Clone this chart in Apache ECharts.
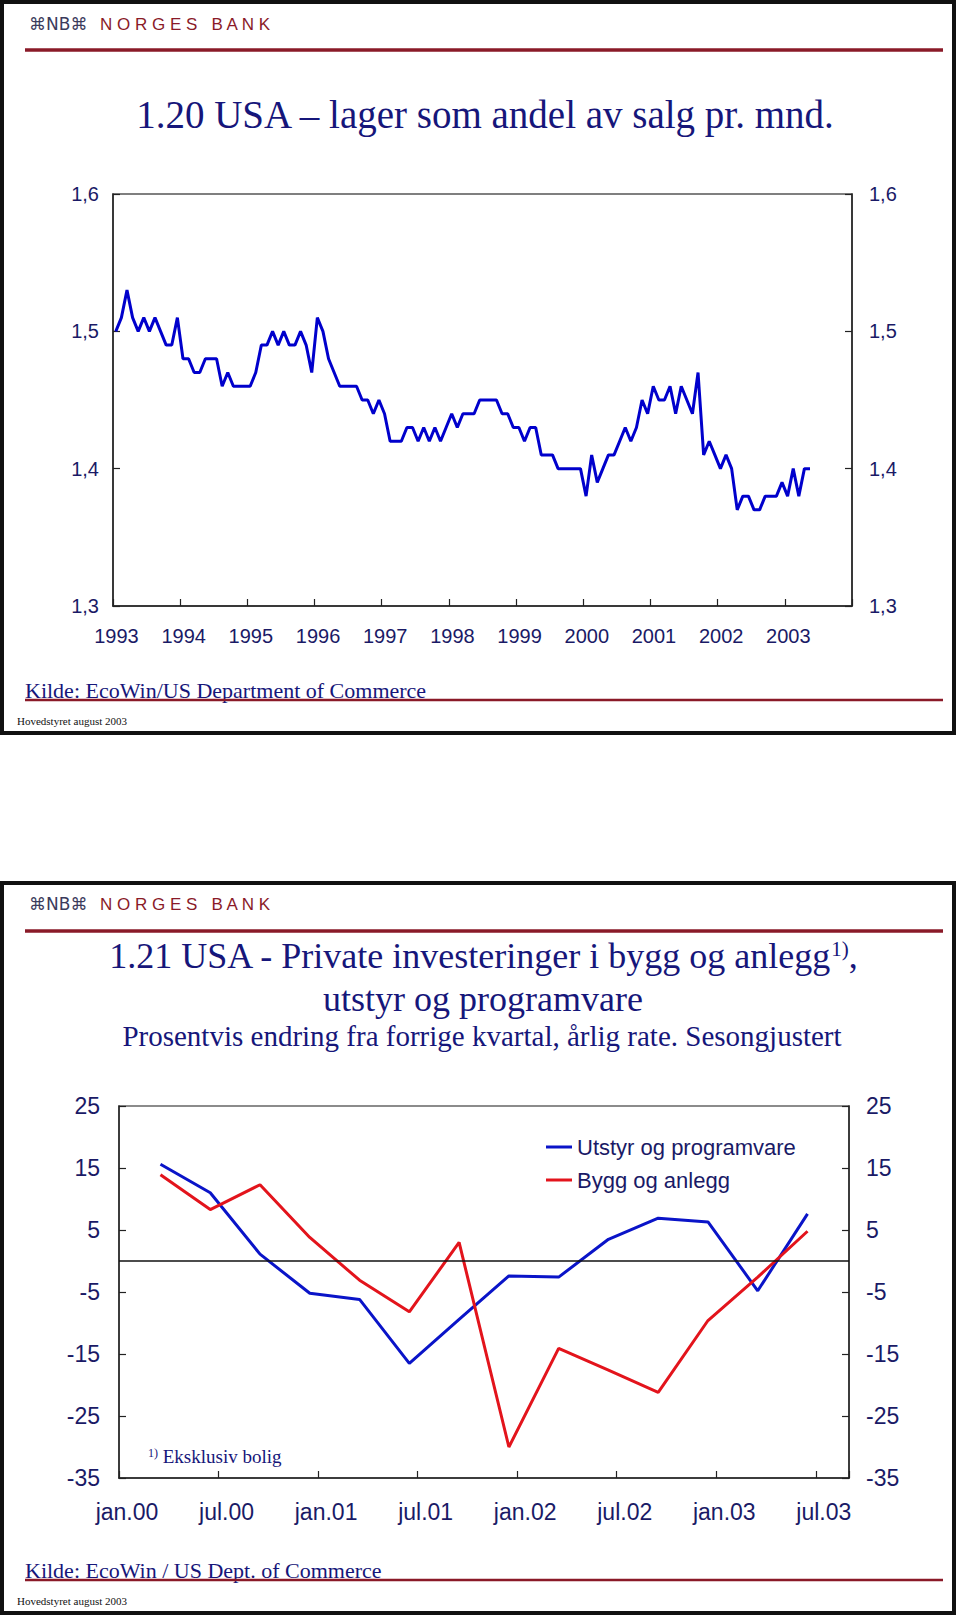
<!DOCTYPE html>
<html>
<head>
<meta charset="utf-8">
<script src="https://cdn.jsdelivr.net/npm/echarts@6/dist/echarts.min.js"></script>
<style>
html,body{margin:0;padding:0;background:#ffffff;}
#c{width:960px;height:1620px;}
</style>
</head>
<body>
<div id="c"></div>
<script>
// ---------- Chart 1.20: inventories / sales ratio, monthly from Jan 1993 ----------
const yearLabels = ['1993','1994','1995','1996','1997','1998','1999','2000','2001','2002','2003'];
const ratioTickLabels = ['1,3','1,4','1,5','1,6'];
const ratio = [
  1.50,1.51,1.53,1.51,1.50,1.51,1.50,1.51,1.50,1.49,
  1.49,1.51,1.48,1.48,1.47,1.47,1.48,1.48,1.48,1.46,
  1.47,1.46,1.46,1.46,1.46,1.47,1.49,1.49,1.50,1.49,
  1.50,1.49,1.49,1.50,1.49,1.47,1.51,1.50,1.48,1.47,
  1.46,1.46,1.46,1.46,1.45,1.45,1.44,1.45,1.44,1.42,
  1.42,1.42,1.43,1.43,1.42,1.43,1.42,1.43,1.42,1.43,
  1.44,1.43,1.44,1.44,1.44,1.45,1.45,1.45,1.45,1.44,
  1.44,1.43,1.43,1.42,1.43,1.43,1.41,1.41,1.41,1.40,
  1.40,1.40,1.40,1.40,1.38,1.41,1.39,1.40,1.41,1.41,
  1.42,1.43,1.42,1.43,1.45,1.44,1.46,1.45,1.45,1.46,
  1.44,1.46,1.45,1.44,1.47,1.41,1.42,1.41,1.40,1.41,
  1.40,1.37,1.38,1.38,1.37,1.37,1.38,1.38,1.38,1.39,
  1.38,1.40,1.38,1.40,1.40
];

// ---------- Chart 1.21: private investment, quarterly ----------
const quarters = ['2000K1','2000K2','2000K3','2000K4','2001K1','2001K2','2001K3','2001K4',
                  '2002K1','2002K2','2002K3','2002K4','2003K1','2003K2'];
const utstyr = [15.6, 11.0, 1.1, -5.2, -6.2, -16.5, -9.4, -2.4, -2.6, 3.5, 6.9, 6.3, -4.8, 7.6];
const bygg   = [13.9, 8.3, 12.3, 3.8, -3.1, -8.2, 3.0, -30.0, -14.1, -17.6, -21.2, -9.6, -2.6, 4.8];
const halfYearLabels = ['jan.00','jul.00','jan.01','jul.01','jan.02','jul.02','jan.03','jul.03'];

// ---------- styling ----------
const NAVY = '#16167a';
const LABEL = '#1a1a66';
const DARKRED = '#8a1a28';
const SANS = '"Liberation Sans", Arial, sans-serif';
const SERIF = '"Liberation Serif", "Times New Roman", serif';

// month positions (months since Jan 1993, plotted mid-month)
const ratioData = ratio.map((v, i) => [i + 0.5, v]);
// quarter positions (months since Jan 2000)
const qx = q => (Number(q.slice(0, 4)) - 2000) * 12 + Number(q.slice(5)) * 3 - 0.5;
const utstyrData = quarters.map((q, i) => [qx(q), utstyr[i]]);
const byggData = quarters.map((q, i) => [qx(q), bygg[i]]);

const chart = echarts.init(document.getElementById('c'), null, {renderer: 'svg', width: 960, height: 1620});

function txt(text, x, y, size, family, color, align, vAlign, extra) {
  const style = Object.assign({
    text: text, x: x, y: y, fill: color,
    fontSize: size, fontFamily: family,
    align: align, textAlign: align,
    verticalAlign: vAlign, textVerticalAlign: vAlign
  }, extra || {});
  return {type: 'text', silent: true, style: style};
}
function hline(x1, x2, y, w, color) {
  return {type: 'line', silent: true, shape: {x1: x1, y1: y, x2: x2, y2: y}, style: {stroke: color, lineWidth: w}};
}
function panel(y, h) {
  return {type: 'rect', silent: true, shape: {x: 2, y: y, width: 952, height: h},
          style: {fill: null, stroke: '#111', lineWidth: 4}};
}

const graphics = [
  panel(2, 731),
  panel(883, 730),
  // header top panel
  txt('⌘NB⌘', 29, 24, 17, '"DejaVu Sans", sans-serif', '#3b3b5c', 'left', 'middle'),
  txt('N O R G E S   B A N K', 100, 24, 17, SANS, DARKRED, 'left', 'middle'),
  hline(25, 943, 50, 3.5, DARKRED),
  txt('1.20 USA – lager som andel av salg pr. mnd.', 485, 114, 39, SERIF, NAVY, 'center', 'middle'),
  txt('Kilde: EcoWin/US Department of Commerce', 25, 690, 22, SERIF, NAVY, 'left', 'middle'),
  hline(25, 943, 700, 2.5, DARKRED),
  txt('Hovedstyret august 2003', 17, 721, 11, SERIF, '#111', 'left', 'middle'),
  // header bottom panel
  txt('⌘NB⌘', 29, 904, 17, '"DejaVu Sans", sans-serif', '#3b3b5c', 'left', 'middle'),
  txt('N O R G E S   B A N K', 100, 904, 17, SANS, DARKRED, 'left', 'middle'),
  hline(25, 943, 931, 3.5, DARKRED),
  txt('1.21 USA - Private investeringer i bygg og anlegg{sup|1)},', 483, 956, 36, SERIF, NAVY, 'center', 'middle',
      {rich: {sup: {fontSize: 21, fontFamily: SERIF, fill: NAVY, verticalAlign: 'top'}}}),
  txt('utstyr og programvare', 483, 999, 36, SERIF, NAVY, 'center', 'middle'),
  txt('Prosentvis endring fra forrige kvartal, årlig rate. Sesongjustert', 482, 1036, 29, SERIF, NAVY, 'center', 'middle'),
  txt('{sup|1)} Eksklusiv bolig', 148, 1456, 19, SERIF, NAVY, 'left', 'middle',
      {rich: {sup: {fontSize: 12, fontFamily: SERIF, fill: NAVY, verticalAlign: 'top'}}}),
  txt('Kilde: EcoWin / US Dept. of Commerce', 25, 1570, 22, SERIF, NAVY, 'left', 'middle'),
  hline(25, 943, 1580, 2.5, DARKRED),
  txt('Hovedstyret august 2003', 17, 1601, 11, SERIF, '#111', 'left', 'middle')
];

const axisLineStyle = {color: '#222', width: 1.5};

const option = {
  animation: false,
  backgroundColor: '#ffffff',
  textStyle: {fontFamily: SANS},
  grid: [
    {left: 113, top: 194, width: 739, height: 412, show: true, borderColor: '#555', borderWidth: 1.5, backgroundColor: 'transparent'},
    {left: 119, top: 1106, width: 730, height: 372, show: true, borderColor: '#666', borderWidth: 1.5, backgroundColor: 'transparent'}
  ],
  xAxis: [
    {
      type: 'value', gridIndex: 0, min: 0, max: 132, interval: 12,
      axisLine: {show: true, onZero: false, lineStyle: axisLineStyle},
      axisTick: {show: true, inside: true, length: 7, lineStyle: {color: '#222', width: 1.2}},
      splitLine: {show: false},
      axisLabel: {
        show: true, margin: 20, color: LABEL, fontSize: 20, fontFamily: SANS,
        padding: [0, 0, 0, 7],
        showMinLabel: true, showMaxLabel: true,
        formatter: v => (v % 12 === 0 && v / 12 < yearLabels.length) ? yearLabels[v / 12] : ''
      }
    },
    {
      type: 'value', gridIndex: 1, min: 0, max: 44, interval: 6,
      axisLine: {show: true, onZero: false, lineStyle: axisLineStyle},
      axisTick: {show: true, inside: true, length: 7, lineStyle: {color: '#222', width: 1.2}},
      splitLine: {show: false},
      axisLabel: {
        show: true, margin: 22, color: LABEL, fontSize: 23, fontFamily: SANS,
        padding: [0, 0, 0, 16],
        showMinLabel: true, showMaxLabel: true,
        formatter: v => (v % 6 === 0 && v / 6 < halfYearLabels.length) ? halfYearLabels[v / 6] : ''
      }
    }
  ],
  yAxis: [
    {
      type: 'value', gridIndex: 0, position: 'left', min: 1.3, max: 1.6, interval: 0.1,
      axisLine: {show: true, lineStyle: axisLineStyle},
      axisTick: {show: true, inside: true, length: 7, lineStyle: {color: '#222', width: 1.2}},
      splitLine: {show: false},
      axisLabel: {
        margin: 14, color: LABEL, fontSize: 20, fontFamily: SANS, showMinLabel: true, showMaxLabel: true,
        formatter: v => ratioTickLabels[Math.round((v - 1.3) * 10)] || ''
      }
    },
    {
      type: 'value', gridIndex: 0, position: 'right', min: 1.3, max: 1.6, interval: 0.1,
      axisLine: {show: true, lineStyle: axisLineStyle},
      axisTick: {show: true, inside: true, length: 7, lineStyle: {color: '#222', width: 1.2}},
      splitLine: {show: false},
      axisLabel: {
        margin: 17, color: LABEL, fontSize: 20, fontFamily: SANS, showMinLabel: true, showMaxLabel: true,
        formatter: v => ratioTickLabels[Math.round((v - 1.3) * 10)] || ''
      }
    },
    {
      type: 'value', gridIndex: 1, position: 'left', min: -35, max: 25, interval: 10,
      axisLine: {show: true, onZero: false, lineStyle: axisLineStyle},
      axisTick: {show: true, inside: true, length: 7, lineStyle: {color: '#222', width: 1.2}},
      splitLine: {show: false},
      axisLabel: {margin: 19, color: LABEL, fontSize: 23, fontFamily: SANS, showMinLabel: true, showMaxLabel: true,
                  formatter: v => String(Math.round(v))}
    },
    {
      type: 'value', gridIndex: 1, position: 'right', min: -35, max: 25, interval: 10,
      axisLine: {show: true, onZero: false, lineStyle: axisLineStyle},
      axisTick: {show: true, inside: true, length: 7, lineStyle: {color: '#222', width: 1.2}},
      splitLine: {show: false},
      axisLabel: {margin: 17, color: LABEL, fontSize: 23, fontFamily: SANS, showMinLabel: true, showMaxLabel: true,
                  formatter: v => String(Math.round(v))}
    }
  ],
  legend: {
    data: ['Utstyr og programvare', 'Bygg og anlegg'],
    orient: 'vertical', left: 541, top: 1131,
    icon: 'rect', itemWidth: 26, itemHeight: 3, itemGap: 11,
    selectedMode: false,
    textStyle: {color: LABEL, fontSize: 22, fontFamily: SANS, lineHeight: 22}
  },
  series: [
    {
      name: 'Lager/salg', type: 'line', xAxisIndex: 0, yAxisIndex: 0,
      data: ratioData, showSymbol: false, symbol: 'none',
      lineStyle: {color: '#0000cc', width: 3}, itemStyle: {color: '#0000cc'}, z: 3
    },
    {
      name: 'null', type: 'line', xAxisIndex: 1, yAxisIndex: 2, data: [], z: 1,
      markLine: {
        silent: true, symbol: ['none', 'none'], label: {show: false},
        lineStyle: {color: '#111', width: 1.5, type: 'solid'},
        emphasis: {disabled: true},
        data: [{yAxis: 0}]
      }
    },
    {
      name: 'Utstyr og programvare', type: 'line', xAxisIndex: 1, yAxisIndex: 2,
      data: utstyrData, showSymbol: false, symbol: 'none',
      lineStyle: {color: '#0a14c8', width: 3}, itemStyle: {color: '#0a14c8'}, z: 3
    },
    {
      name: 'Bygg og anlegg', type: 'line', xAxisIndex: 1, yAxisIndex: 2,
      data: byggData, showSymbol: false, symbol: 'none',
      lineStyle: {color: '#e3141c', width: 3}, itemStyle: {color: '#e3141c'}, z: 3
    }
  ],
  graphic: graphics
};

chart.setOption(option);
</script>
</body>
</html>
